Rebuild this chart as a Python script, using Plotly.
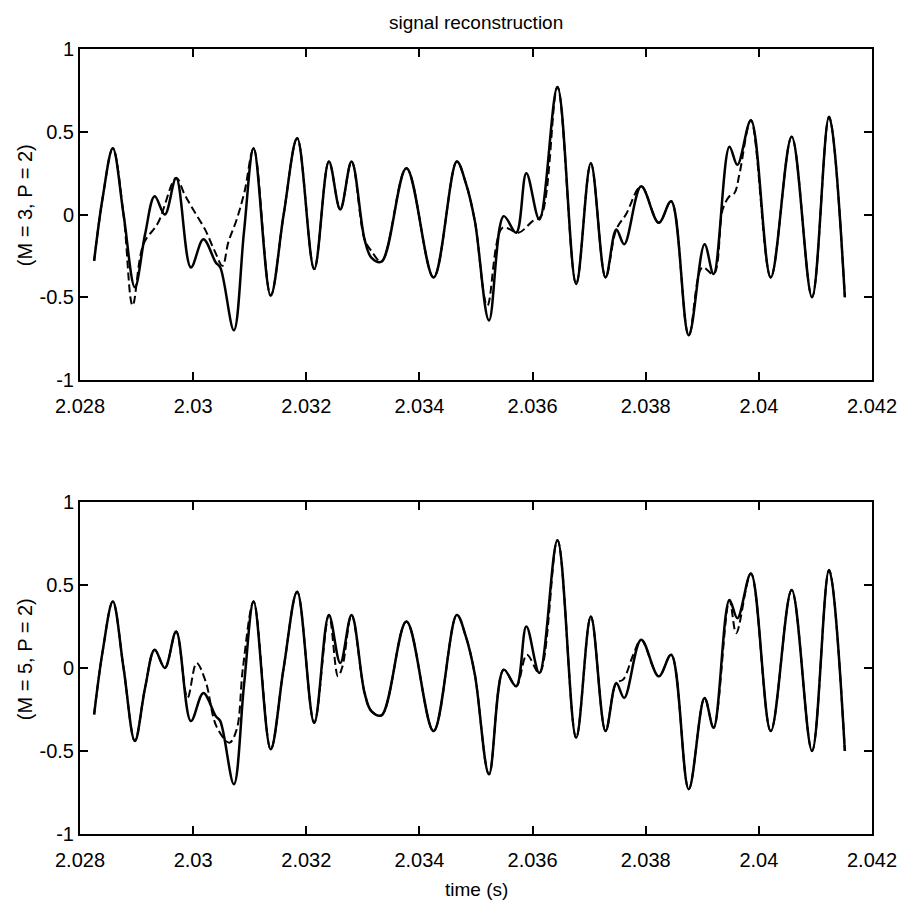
import plotly.graph_objects as go

# ---------------- data ----------------
# original signal (solid line), same in both panels
orig_t = [2.02825, 2.02840, 2.02858, 2.02877, 2.02897, 2.02915, 2.02932, 2.02950, 2.02970,
          2.02996, 2.03018, 2.03040, 2.03048, 2.03072, 2.03090, 2.03107, 2.03137, 2.03160,
          2.03184, 2.03214, 2.03240, 2.03260, 2.03280, 2.03303, 2.03315, 2.03333, 2.03377,
          2.03425, 2.03466, 2.03482, 2.03498, 2.03523, 2.03549, 2.03571, 2.03589, 2.03612,
          2.03644, 2.03677, 2.03703, 2.03729, 2.03748, 2.03762, 2.03792, 2.03823, 2.03845,
          2.03876, 2.03904, 2.03920, 2.03948, 2.03962, 2.03986, 2.04021, 2.04058, 2.04094,
          2.04124, 2.04152]
orig_y = [-0.28, 0.10, 0.40, 0.00, -0.44, -0.12, 0.11, 0.00, 0.22,
          -0.32, -0.15, -0.29, -0.32, -0.70, -0.10, 0.40, -0.49, 0.00,
          0.46, -0.33, 0.32, 0.03, 0.32, -0.15, -0.26, -0.285, 0.28,
          -0.38, 0.32, 0.19, -0.04, -0.64, -0.01, -0.11, 0.25, -0.03,
          0.77, -0.42, 0.31, -0.38, -0.09, -0.18, 0.17, -0.05, 0.08,
          -0.73, -0.18, -0.36, 0.41, 0.30, 0.57, -0.38, 0.47, -0.50,
          0.59, -0.50]

# reconstruction, M = 3, P = 2 (dashed, top panel)
rec3_t = [2.02825, 2.02840, 2.02858, 2.02877, 2.02893, 2.02912, 2.02938, 2.02970,
          2.02985, 2.03000, 2.03021, 2.03038, 2.03052, 2.03062, 2.03077, 2.03091,
          2.03107, 2.03137, 2.03160, 2.03184, 2.03214, 2.03240, 2.03260, 2.03280,
          2.03303, 2.03315, 2.03333, 2.03377, 2.03425, 2.03466, 2.03482, 2.03498,
          2.03520, 2.03547, 2.03575, 2.03600, 2.03615, 2.03644, 2.03677, 2.03703,
          2.03729, 2.03748, 2.03765, 2.03792, 2.03823, 2.03845, 2.03876, 2.03900,
          2.03920, 2.03936, 2.03948, 2.03957, 2.03966, 2.03986, 2.04021, 2.04058,
          2.04094, 2.04124, 2.04152]
rec3_y = [-0.28, 0.10, 0.40, 0.00, -0.55, -0.18, -0.05, 0.22,
          0.12, 0.03, -0.09, -0.22, -0.31, -0.17, -0.03, 0.14,
          0.40, -0.49, 0.00, 0.46, -0.33, 0.32, 0.03, 0.32,
          -0.15, -0.22, -0.285, 0.28, -0.38, 0.32, 0.19, -0.04,
          -0.55, -0.08, -0.11, -0.04, -0.01, 0.77, -0.42, 0.31,
          -0.38, -0.09, 0.00, 0.17, -0.05, 0.08, -0.73, -0.32,
          -0.36, 0.03, 0.11, 0.13, 0.25, 0.57, -0.38, 0.47,
          -0.50, 0.59, -0.50]

# reconstruction, M = 5, P = 2 (dashed, bottom panel)
rec5_t = [2.02825, 2.02840, 2.02858, 2.02877, 2.02897, 2.02915, 2.02932, 2.02950, 2.02970,
          2.02990, 2.03006, 2.03022, 2.03041, 2.03064, 2.03077, 2.03088, 2.03107, 2.03137,
          2.03160, 2.03184, 2.03214, 2.03240, 2.03256, 2.03264, 2.03280, 2.03303, 2.03315,
          2.03333, 2.03377, 2.03425, 2.03466, 2.03482, 2.03498, 2.03523, 2.03549, 2.03571,
          2.03590, 2.03612, 2.03644, 2.03677, 2.03703, 2.03729, 2.03748, 2.03760, 2.03778,
          2.03792, 2.03823, 2.03845, 2.03876, 2.03904, 2.03920, 2.03948, 2.03960, 2.03986,
          2.04021, 2.04058, 2.04094, 2.04124, 2.04152]
rec5_y = [-0.28, 0.10, 0.40, 0.00, -0.44, -0.12, 0.11, 0.00, 0.22,
          -0.18, 0.03, -0.08, -0.35, -0.45, -0.37, 0.00, 0.40, -0.49,
          0.00, 0.46, -0.33, 0.32, -0.05, 0.01, 0.32, -0.15, -0.26,
          -0.285, 0.28, -0.38, 0.32, 0.19, -0.04, -0.64, -0.01, -0.11,
          0.08, -0.03, 0.77, -0.42, 0.31, -0.38, -0.09, -0.07, 0.08,
          0.17, -0.05, 0.08, -0.73, -0.18, -0.36, 0.41, 0.21, 0.57,
          -0.38, 0.47, -0.50, 0.59, -0.50]

x_ticks = [2.028, 2.030, 2.032, 2.034, 2.036, 2.038, 2.040, 2.042]
x_labels = ["2.028", "2.03", "2.032", "2.034", "2.036", "2.038", "2.04", "2.042"]
y_ticks = [-1, -0.5, 0, 0.5, 1]
y_labels = ["-1", "-0.5", "0", "0.5", "1"]

title_text = "signal reconstruction"
ylabel_top = "(M = 3, P = 2)"
ylabel_bot = "(M = 5, P = 2)"
xlabel = "time (s)"

# ---------------- figure ----------------
FONT = "Liberation Sans, Arial, Helvetica, sans-serif"
W, H = 909, 905
L, R, T, B = 80, 34, 49, 71
plot_h = H - T - B

fig = go.Figure()
solid = dict(color="black", width=2.5)
dashed = dict(color="black", width=2.0, dash="8px,4px")

fig.add_trace(go.Scatter(x=orig_t, y=orig_y, mode="lines", line=dict(**solid, shape="spline", smoothing=1.0),
                         xaxis="x", yaxis="y", showlegend=False))
fig.add_trace(go.Scatter(x=rec3_t, y=rec3_y, mode="lines", line=dict(**dashed, shape="spline", smoothing=1.0),
                         xaxis="x", yaxis="y", showlegend=False))
fig.add_trace(go.Scatter(x=orig_t, y=orig_y, mode="lines", line=dict(**solid, shape="spline", smoothing=1.0),
                         xaxis="x2", yaxis="y2", showlegend=False))
fig.add_trace(go.Scatter(x=rec5_t, y=rec5_y, mode="lines", line=dict(**dashed, shape="spline", smoothing=1.0),
                         xaxis="x2", yaxis="y2", showlegend=False))

top_bottom_px = 380
bot_top_px = 502
dom_top = [(H - B - top_bottom_px) / plot_h, 1.0]
dom_bot = [0.0, (H - B - bot_top_px) / plot_h]

axis_common = dict(showline=True, linecolor="black", linewidth=2, mirror="allticks",
                   ticks="inside", ticklen=8, tickwidth=1.5, tickcolor="black",
                   showgrid=False, zeroline=False,
                   tickfont=dict(family=FONT, size=20, color="black"))

fig.update_layout(
    width=W, height=H,
    margin=dict(l=L, r=R, t=T, b=B),
    paper_bgcolor="white", plot_bgcolor="white",
    xaxis=dict(range=[2.028, 2.042], tickvals=x_ticks, ticktext=x_labels,
               anchor="y", ticklabelstandoff=7, **axis_common),
    yaxis=dict(range=[-1, 1], tickvals=y_ticks, ticktext=y_labels, domain=dom_top,
               anchor="x", **axis_common),
    xaxis2=dict(range=[2.028, 2.042], tickvals=x_ticks, ticktext=x_labels,
                anchor="y2", ticklabelstandoff=7, **axis_common),
    yaxis2=dict(range=[-1, 1], tickvals=y_ticks, ticktext=y_labels, domain=dom_bot,
                anchor="x2", **axis_common),
    annotations=[
        dict(text=title_text, xref="paper", yref="paper", x=0.5, y=1 + (T - 22) / plot_h,
             xanchor="center", yanchor="middle", showarrow=False,
             font=dict(family=FONT, size=19, color="black")),
        dict(text=ylabel_top, xref="paper", yref="paper", x=-55 / (W - L - R),
             y=(H - B - 205) / plot_h, xanchor="center", yanchor="middle", textangle=-90,
             showarrow=False, font=dict(family=FONT, size=20, color="black")),
        dict(text=ylabel_bot, xref="paper", yref="paper", x=-55 / (W - L - R),
             y=(H - B - 659) / plot_h, xanchor="center", yanchor="middle", textangle=-90,
             showarrow=False, font=dict(family=FONT, size=20, color="black")),
        dict(text=xlabel, xref="paper", yref="paper", x=0.5, y=-(889 - (H - B)) / plot_h,
             xanchor="center", yanchor="middle", showarrow=False,
             font=dict(family=FONT, size=19, color="black")),
    ],
)

fig.write_html("out.html")
